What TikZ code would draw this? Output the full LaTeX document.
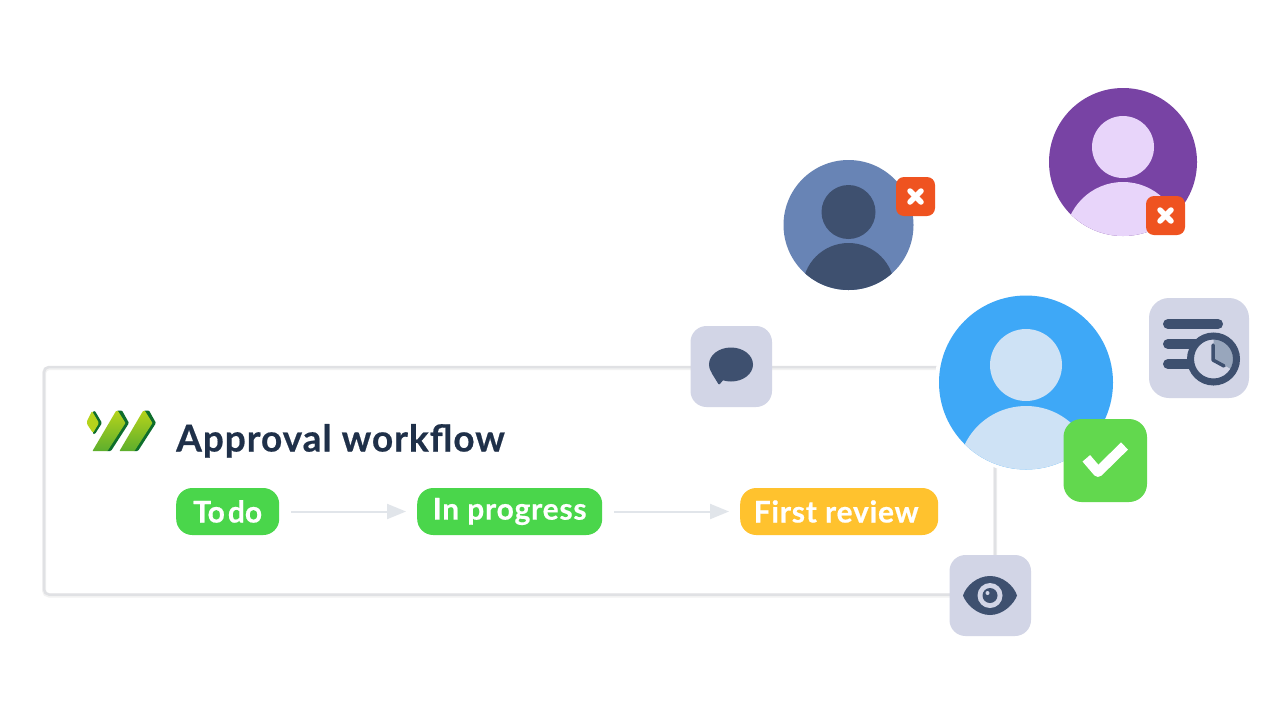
\documentclass[tikz,border=0pt]{standalone}
\usepackage{fontspec}
\setmainfont{Lato}[LetterSpace=2.6,BoldFeatures={FakeBold=0.5}]
\usetikzlibrary{arrows.meta,calc}
\definecolor{slate}{HTML}{3E506F}
\definecolor{tile}{HTML}{D2D5E6}
\definecolor{cardline}{HTML}{E0E1E4}
\definecolor{inkdark}{HTML}{1F3049}
\definecolor{pillgreen}{HTML}{4AD64B}
\definecolor{pillyellow}{HTML}{FFC22E}
\definecolor{checkgreen}{HTML}{62D84E}
\definecolor{badgered}{HTML}{EF5320}
\definecolor{arrowgrey}{HTML}{E1E5EA}
\definecolor{lgtop}{HTML}{B5D31B}
\definecolor{lgbot}{HTML}{5DAE2D}
\definecolor{lgdark}{HTML}{0E6E2C}
\tikzset{
  pill/.style={rounded corners=16pt,minimum height=47pt,inner sep=0pt,font=\fontsize{30}{30}\selectfont\bfseries,text=white,anchor=west},
  flowarrow/.style={draw=arrowgrey,line width=2pt,-{Triangle[length=19pt,width=15pt]},shorten <=12pt,shorten >=11pt,yshift=0.6pt},
  tilebox/.style={fill=tile,rounded corners=#1},
  badgex/.style={draw=white,line width=5.5pt,line cap=round},
}
\newcommand{\avatar}[9]{% x y r headdy headr bodytop bodyR bg fg
  \begin{scope}
    \fill[#8] (#1,#2) circle[radius=#3];
    \clip (#1,#2) circle[radius=#3];
    \fill[#9] (#1,#2+#4) circle[radius=#5];
    \fill[#9] (#1,#6+#7) circle[radius=#7];
  \end{scope}}
\newcommand{\redbadge}[2]{%
  \fill[badgered,rounded corners=8pt] (#1,#2) rectangle ++(39,39);
  \draw[badgex] ($(#1,#2)+(14,14)$) -- ++(11,11);
  \draw[badgex] ($(#1,#2)+(25,14)$) -- ++(-11,11);}
\begin{document}
\begin{tikzpicture}[x=1pt,y=-1pt]
\useasboundingbox (0,0) rectangle (1281,721);
\fill[white] (0,0) rectangle (1281,721);
% card
\draw[black!5,line width=4pt,rounded corners=5pt] (44,368) rectangle (995,595.5);
\draw[cardline,line width=2.5pt,rounded corners=5pt] (44,367) rectangle (995,594.5);
% logo
\fill[lgdark,rounded corners=1pt] (93,411) -- (95,411) -- (102,423) -- (95,434) -- (93,434) -- cycle;
\fill[lgtop,rounded corners=1pt] (92,411) -- (99,423) -- (93,433) -- (87,424) -- (87,421) -- cycle;
\foreach \dx in {0,27}{
  \fill[lgdark,rounded corners=1pt] ($(117,410.5)+(\dx,0)$) -- ++(5,0) -- ++(7,12.5) -- ++(-18,28) -- ++(-5,0) -- cycle;
  \shade[top color=lgtop,bottom color=lgbot,rounded corners=0.5pt] ($(116,411)+(\dx,0)$) -- ++(2,0) -- ++(7.5,12) -- ++(-18,28) -- ++(-15,0) -- cycle;
}
% title
\node[anchor=base west,inner sep=0pt,text=inkdark,font=\fontsize{37}{37}\selectfont\bfseries] (title) at (176,451.5) {Approval workflow};
% pills
\node[pill,fill=pillgreen,minimum width=103pt] (todo) at (176,511.5) {\addfontfeature{LetterSpace=0}To\hspace{3pt}do};
\node[pill,fill=pillgreen,minimum width=185pt] (prog) at (417,511.5) {\raisebox{1pt}{In progress}};
\node[pill,fill=pillyellow,minimum width=198pt] (first) at (740,511.5) {\hspace{-6pt}First review};
\draw[flowarrow] (todo.east) -- (prog.west);
\draw[flowarrow] (prog.east) -- (first.west);
% comment tile
\fill[tilebox=16pt] (690.5,326) rectangle (772,407);
\fill[slate] (731,364.5) ellipse[x radius=22,y radius=17];
\fill[slate,rounded corners=1pt] (711,372) -- (719,385) -- (725,378) -- cycle;
% eye tile
\fill[tilebox=16pt] (949.5,555) rectangle (1031,636);
\fill[slate] (963,595.5) .. controls (966,586) and (977,576) .. (990,576) .. controls (1003,576) and (1014,586) .. (1017,595.5) .. controls (1014,604) and (1003,615) .. (990,615) .. controls (977,615) and (966,604) .. (963,595.5) -- cycle;
\fill[tile] (990,595.5) circle[radius=12.5];
\fill[slate] (990,595.5) circle[radius=7.5];
\fill[tile] (987.5,593) circle[radius=2];
% main avatars
\fill[white] (1026,382) circle[radius=91];
\avatar{1026}{382.5}{87}{-17.5}{36}{406}{68}{color={rgb,255:red,62;green,168;blue,247}}{color={rgb,255:red,206;green,226;blue,245}}
\avatar{848.5}{225}{65}{-13}{27}{243}{46}{color={rgb,255:red,104;green,132;blue,181}}{slate}
\avatar{1123}{162}{74}{-15}{31}{182}{58}{color={rgb,255:red,120;green,67;blue,164}}{color={rgb,255:red,232;green,213;blue,250}}
% badges
\redbadge{896}{177}
\redbadge{1146}{196}
\fill[checkgreen,rounded corners=18pt] (1063.5,419) rectangle (1147,502);
\draw[white,line width=10pt,line join=round] (1086.3,458.3) -- (1098,472) -- (1124.5,446);
% clock tile
\fill[tilebox=20pt] (1149,298) rectangle (1249,398);
\draw[slate,line width=10pt,line cap=round] (1168,324) -- (1218,324);
\draw[slate,line width=10pt,line cap=round] (1168,344) -- (1205,344);
\draw[slate,line width=10pt,line cap=round] (1168,364) -- (1200,364);
\fill[tile] (1213.5,359) circle[radius=23];
\fill[color={rgb,255:red,152;green,166;blue,188}] (1213.5,359) -- (1213.5,336) arc[start angle=-90,end angle=30,radius=23] -- cycle;
\draw[slate,line width=7pt] (1213.5,359) circle[radius=23];
\draw[slate,line width=3.5pt,line join=round,line cap=round] (1213,345) -- (1213,360) -- (1224,366);
\end{tikzpicture}
\end{document}
